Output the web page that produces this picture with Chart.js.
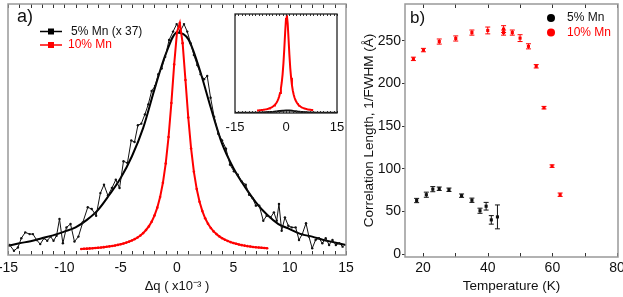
<!DOCTYPE html>
<html>
<head>
<meta charset="utf-8">
<script src="https://cdn.jsdelivr.net/npm/chart.js@4.4.1/dist/chart.umd.min.js"></script>
<style>
    body { margin: 0; background: #fff; }
    #wrap { position: relative; width: 623px; height: 297px; }
    canvas { position: absolute; left: 0; top: 0; }
</style>
</head>
<body>
<div id="wrap">
    <canvas id="panelA" width="623" height="297"></canvas>
    <canvas id="panelB" width="623" height="297"></canvas>
    <canvas id="inset" width="623" height="297"></canvas>
</div>
<script>
//Panel a) - 5% Mn scan (already multiplied by 37)
const blackDq = [-14.85, -14.47, -14.12, -13.82, -13.47, -13.08, -12.79, -12.46, -12.14, -11.81,
    -11.52, -11.22, -10.96, -10.69, -10.43, -10.13, -9.81, -9.45, -9.10, -8.75,
    -8.36, -7.92, -7.57, -7.18, -6.80, -6.48, -6.13, -5.78, -5.43, -5.10,
    -4.75, -4.40, -4.06, -3.77, -3.47, -3.17, -2.85, -2.55, -2.25, -1.95,
    -1.66, -1.36, -1.05, -0.70, -0.35, -0.03, 0.27, 0.62, 0.91, 1.21,
    1.50, 1.80, 2.10, 2.40, 2.68, 2.98, 3.30, 3.66, 4.00, 4.35,
    4.70, 5.05, 5.39, 5.74, 6.10, 6.40, 6.70, 7.00, 7.30, 7.66,
    7.96, 8.31, 8.60, 8.85, 9.05, 9.29, 9.58, 9.88, 10.18, 10.53,
    10.83, 11.12, 11.45, 11.71, 12.00, 12.30, 12.60, 12.90, 13.20, 13.50,
    13.80, 14.10, 14.40, 14.70];
const blackI = [12, 5, 9, 20, 27, 25, 25, 18, 13, 20,
    17, 22, 17, 23, 43, 14, 33, 37, 16, 22,
    39, 57, 55, 47, 74, 84, 71, 80, 90, 80,
    112, 110, 137, 135, 155, 157, 168, 180, 196, 202,
    216, 223, 237, 257, 267, 276, 267, 276, 267, 253,
    239, 227, 216, 210, 214, 188, 165, 145, 137, 127,
    108, 100, 96, 88, 84, 72, 68, 59, 59, 41,
    47, 45, 51, 41, 61, 29, 45, 35, 33, 33,
    18, 25, 38, 22, 8, 18, 20, 14, 20, 12,
    18, 12, 14, 10];

//fit through the 5% Mn scan
const fitDq = [-15, -14, -13, -12, -11, -10, -9, -8, -7, -6, -5, -4, -3, -2, -1, 0,
    1, 2, 3, 4, 5, 6, 7, 8, 9, 10, 11, 12, 13, 14, 15];
const fitI = [11, 14, 16.5, 20, 23.5, 28, 33, 42, 54, 72, 92, 118, 152, 198, 240, 266,
    258, 222, 176, 133, 104, 82, 63, 48, 37, 31, 25, 22, 18, 15, 12];

//10% Mn scan
const redDq = [-8.5, -8.25, -8, -7.75, -7.5, -7.25, -7, -6.75, -6.5, -6.25,
    -6, -5.75, -5.5, -5.25, -5, -4.75, -4.5, -4.25, -4, -3.75,
    -3.5, -3.25, -3, -2.75, -2.5, -2.25, -2, -1.75, -1.5, -1.25,
    -1, -0.75, -0.5, -0.25, 0, 0.25, 0.5, 0.75, 1, 1.25,
    1.5, 1.75, 2, 2.25, 2.5, 2.75, 3, 3.25, 3.5, 3.75,
    4, 4.25, 4.5, 4.75, 5, 5.25, 5.5, 5.75, 6, 6.25,
    6.5, 6.75, 7, 7.25, 7.5, 7.75, 8];
const redI = [7.2, 7.4, 7.6, 7.9, 8.1, 8.4, 8.7, 9.0, 9.4, 9.8,
    10.3, 10.8, 11.4, 12.1, 12.9, 13.8, 14.8, 16.0, 17.4, 19.0,
    20.9, 23.3, 26.2, 29.9, 34.2, 39.8, 47.1, 56.6, 69.2, 86.3,
    109.4, 141, 181.6, 227.8, 266.4, 277.2, 253.2, 209.2, 164.3, 127.3,
    99.4, 78.8, 63.7, 52.5, 43.9, 37.4, 32.3, 28.2, 25.0, 22.3,
    20.1, 18.3, 16.8, 15.4, 14.3, 13.4, 12.5, 11.8, 11.2, 10.6,
    10.1, 9.6, 9.2, 8.9, 8.6, 8.3, 8.0];

const scaleFactor = 37;

//tick values / labels
const dqTicks = [-15, -14, -13, -12, -11, -10, -9, -8, -7, -6, -5, -4, -3, -2, -1, 0,
    1, 2, 3, 4, 5, 6, 7, 8, 9, 10, 11, 12, 13, 14, 15];
const dqLabels = [-15, -10, -5, 0, 5, 10, 15];
const insetLabels = [-15, 0, 15];

//Panel b) - correlation length vs temperature
const temp5 = [18.0, 21.0, 23.0, 25.0, 28.0, 31.9, 35.1, 37.6, 39.5, 41.1, 43.0];
const len5 = [62.7, 69.5, 76, 76.5, 75.3, 68.4, 63, 50.7, 56, 40, 43.5];
const err5 = [2.5, 3, 3, 2, 2, 2, 2.5, 3, 4.5, 5, 14];

const temp10 = [17.0, 20.1, 25.0, 30.1, 35.1, 40.0, 44.9, 44.9, 47.6, 50.0, 52.6, 55.0, 57.4, 59.9, 62.4];
const len10 = [228.7, 239, 249, 252.6, 259.5, 262, 263.6, 259.5, 259.5, 253, 243.4, 220, 171.5, 103, 69.5];
const err10 = [2, 2, 3, 3, 3, 4, 4, 3, 3, 4, 3, 2, 1.5, 1.5, 2];

const tempTicks = [20, 30, 40, 50, 60, 70, 80];
const tempLabels = [20, 40, 60, 80];
const lenTicks = [0, 50, 100, 150, 200, 250];

const fontFamily = '"Liberation Sans", Arial, sans-serif';
const red = '#ff0000';

Chart.defaults.animation = false;
Chart.defaults.font.family = fontFamily;
Chart.defaults.color = '#111';

function toPoints(xs, ys) {
    return xs.map((x, i) => ({x: x, y: ys[i]}));
}

function setTicks(values) {
    return function(scale) {
        scale.ticks = values.map(v => ({value: v}));
    };
}

//fixes axis size and stops the edge labels from pushing the plot area in
function fixSize(size) {
    return function(scale) {
        if (scale.isHorizontal()) scale.height = size; else scale.width = size;
        scale.paddingLeft = 0;
        scale.paddingRight = 0;
        scale.paddingTop = 0;
        scale.paddingBottom = 0;
    };
}

//Draws box around the plot area plus inward ticks on top/bottom
const frameTicks = {
    id: 'frameTicks',
    beforeDatasetsDraw(chart, args, opts) {
        if (!opts.fill) return;
        const a = chart.chartArea;
        chart.ctx.save();
        chart.ctx.fillStyle = opts.fill;
        chart.ctx.fillRect(a.left, a.top, a.right - a.left, a.bottom - a.top);
        chart.ctx.restore();
    },
    afterDraw(chart, args, opts) {
        const ctx = chart.ctx;
        const a = chart.chartArea;
        const xs = chart.scales.x;
        ctx.save();
        ctx.strokeStyle = opts.tickColor;
        ctx.lineWidth = 1;
        (opts.ticks || []).forEach(v => {
            const x = Math.round(xs.getPixelForValue(v)) + 0.5;
            ctx.beginPath();
            ctx.moveTo(x, a.top);
            ctx.lineTo(x, a.top + opts.len);
            ctx.moveTo(x, a.bottom);
            ctx.lineTo(x, a.bottom - opts.len);
            ctx.stroke();
        });
        ctx.strokeStyle = opts.color;
        ctx.lineWidth = opts.width;
        ctx.strokeRect(a.left, a.top, a.right - a.left, a.bottom - a.top);
        ctx.restore();
    }
};

//Panel letters and legends
const notes = {
    id: 'notes',
    afterDraw(chart, args, opts) {
        const ctx = chart.ctx;
        ctx.save();
        (opts.marks || []).forEach(m => {
            ctx.fillStyle = m.color;
            ctx.strokeStyle = m.color;
            if (m.type == 'line') {
                ctx.lineWidth = 1.5;
                ctx.beginPath();
                ctx.moveTo(m.x - 11, m.y);
                ctx.lineTo(m.x + 11, m.y);
                ctx.stroke();
                ctx.fillRect(m.x - 3, m.y - 3, 6, 6);
            } else {
                ctx.beginPath();
                ctx.arc(m.x, m.y, 4, 0, Math.PI * 2);
                ctx.fill();
            }
        });
        (opts.texts || []).forEach(t => {
            ctx.fillStyle = t.color || '#111';
            ctx.font = t.size + 'px ' + fontFamily;
            ctx.textAlign = 'left';
            ctx.textBaseline = 'middle';
            ctx.fillText(t.text, t.x, t.y);
        });
        ctx.restore();
    }
};

//Error bars for the scatter points
const errorBars = {
    id: 'errorBars',
    afterDatasetsDraw(chart) {
        const ctx = chart.ctx;
        const xs = chart.scales.x, ys = chart.scales.y;
        ctx.save();
        chart.data.datasets.forEach(ds => {
            ctx.strokeStyle = ds.borderColor;
            ctx.lineWidth = 1;
            ds.data.forEach((p, i) => {
                const x = xs.getPixelForValue(p.x);
                const y1 = ys.getPixelForValue(p.y - ds.errors[i]);
                const y2 = ys.getPixelForValue(p.y + ds.errors[i]);
                ctx.beginPath();
                ctx.moveTo(x, y1); ctx.lineTo(x, y2);
                ctx.moveTo(x - 2.5, y1); ctx.lineTo(x + 2.5, y1);
                ctx.moveTo(x - 2.5, y2); ctx.lineTo(x + 2.5, y2);
                ctx.stroke();
            });
        });
        ctx.restore();
    }
};

function createPanelA() {
    const ctx = document.getElementById('panelA').getContext('2d');
    new Chart(ctx, {
        type: 'line',
        data: {
            datasets: [{
                data: toPoints(redDq, redI),
                borderColor: red,
                backgroundColor: red,
                borderWidth: 2,
                pointRadius: 1.3,
                pointBorderWidth: 0,
                tension: 0
            }, {
                data: toPoints(blackDq, blackI),
                borderColor: '#111',
                backgroundColor: '#111',
                borderWidth: 1,
                pointRadius: 1.2,
                pointBorderWidth: 0,
                tension: 0
            }, {
                data: toPoints(fitDq, fitI),
                borderColor: '#000',
                borderWidth: 2,
                pointRadius: 0,
                cubicInterpolationMode: 'monotone'
            }]
        },
        options: {
            responsive: false,
            devicePixelRatio: 1,
            layout: {padding: {left: 8, right: 277, top: 1, bottom: 0}},
            plugins: {
                legend: {display: false},
                tooltip: {enabled: false},
                frameTicks: {ticks: dqTicks, len: 4, tickColor: '#333', color: '#999', width: 1.5},
                notes: {
                    marks: [
                        {type: 'line', x: 51, y: 31.5, color: '#000'},
                        {type: 'line', x: 51, y: 45, color: red}
                    ],
                    texts: [
                        {text: 'a)', x: 17, y: 17, size: 18},
                        {text: '5% Mn (x 37)', x: 71, y: 31.5, size: 12},
                        {text: '10% Mn', x: 68, y: 45, size: 12, color: red}
                    ]
                }
            },
            scales: {
                x: {
                    type: 'linear',
                    min: -15, max: 15,
                    afterBuildTicks: setTicks(dqTicks),
                    afterFit: fixSize(42),
                    grid: {display: false, drawTicks: false},
                    border: {display: false},
                    ticks: {
                        autoSkip: false, maxRotation: 0, padding: 5,
                        font: {size: 14},
                        callback: v => dqLabels.includes(v) ? String(v) : ''
                    },
                    title: {display: true, text: 'Δq ( x10⁻³ )', font: {size: 13}, padding: {top: 0, bottom: 2.5}}
                },
                y: {display: false, min: 0, max: 300}
            }
        },
        plugins: [frameTicks, notes]
    });
}

function createInset() {
    const ctx = document.getElementById('inset').getContext('2d');
    new Chart(ctx, {
        type: 'line',
        data: {
            datasets: [{
                data: toPoints(redDq, redI),
                borderColor: red,
                borderWidth: 2,
                pointRadius: 0,
                tension: 0
            }, {
                data: toPoints(fitDq, fitI.map(v => v / scaleFactor)),
                borderColor: '#111',
                borderWidth: 2,
                pointRadius: 0,
                cubicInterpolationMode: 'monotone'
            }]
        },
        options: {
            responsive: false,
            devicePixelRatio: 1,
            layout: {padding: {left: 235, right: 286, top: 14, bottom: 0}},
            plugins: {
                legend: {display: false},
                tooltip: {enabled: false},
                frameTicks: {ticks: dqTicks, len: 2, tickColor: '#333', color: '#222', width: 1.3, fill: '#fff'}
            },
            scales: {
                x: {
                    type: 'linear',
                    min: -15, max: 15,
                    afterBuildTicks: setTicks(insetLabels),
                    afterFit: fixSize(184),
                    grid: {display: false, drawTicks: false},
                    border: {display: false},
                    ticks: {autoSkip: false, maxRotation: 0, padding: 6.5, font: {size: 13}}
                },
                y: {display: false, min: 0, max: 280}
            }
        },
        plugins: [frameTicks]
    });
}

function createPanelB() {
    const ctx = document.getElementById('panelB').getContext('2d');
    new Chart(ctx, {
        type: 'scatter',
        data: {
            datasets: [{
                label: '5% Mn',
                data: toPoints(temp5, len5),
                errors: err5,
                borderColor: '#111',
                backgroundColor: '#111',
                pointStyle: 'rect',
                pointRadius: 2.2,
                pointBorderWidth: 0
            }, {
                label: '10% Mn',
                data: toPoints(temp10, len10),
                errors: err10,
                borderColor: red,
                backgroundColor: red,
                pointStyle: 'rect',
                pointRadius: 2.2,
                pointBorderWidth: 0
            }]
        },
        options: {
            responsive: false,
            devicePixelRatio: 1,
            layout: {padding: {left: 355, right: 5, top: 1, bottom: 0}},
            plugins: {
                legend: {display: false},
                tooltip: {enabled: false},
                frameTicks: {ticks: tempTicks, len: 4, tickColor: '#333', color: '#999', width: 1.5},
                notes: {
                    marks: [
                        {type: 'dot', x: 551, y: 18, color: '#000'},
                        {type: 'dot', x: 551, y: 32.5, color: red}
                    ],
                    texts: [
                        {text: 'b)', x: 410, y: 18.5, size: 17},
                        {text: '5% Mn', x: 567, y: 18, size: 12},
                        {text: '10% Mn', x: 567, y: 32.5, size: 12, color: red}
                    ]
                }
            },
            scales: {
                x: {
                    type: 'linear',
                    min: 14.4, max: 80.3,
                    afterBuildTicks: setTicks(tempTicks),
                    afterFit: fixSize(40),
                    grid: {display: false, drawTicks: false},
                    border: {display: false},
                    ticks: {
                        autoSkip: false, maxRotation: 0, padding: 3,
                        font: {size: 14},
                        callback: v => tempLabels.includes(v) ? String(v) : ''
                    },
                    title: {display: true, text: 'Temperature (K)', font: {size: 13.5}, padding: {top: 0, bottom: 3}}
                },
                y: {
                    min: -3.5, max: 293,
                    afterBuildTicks: setTicks(lenTicks),
                    afterFit: fixSize(50),
                    grid: {drawOnChartArea: false, drawTicks: true, tickLength: 3, color: '#333'},
                    border: {display: false},
                    ticks: {padding: 1, font: {size: 14}},
                    title: {display: true, text: 'Correlation Length, 1/FWHM (Å)', font: {size: 13.5}, padding: {top: 6, bottom: 0}}
                }
            }
        },
        plugins: [errorBars, frameTicks, notes]
    });
}

document.addEventListener('DOMContentLoaded', function() {
    createPanelA();
    createPanelB();
    createInset();
});
</script>
</body>
</html>
